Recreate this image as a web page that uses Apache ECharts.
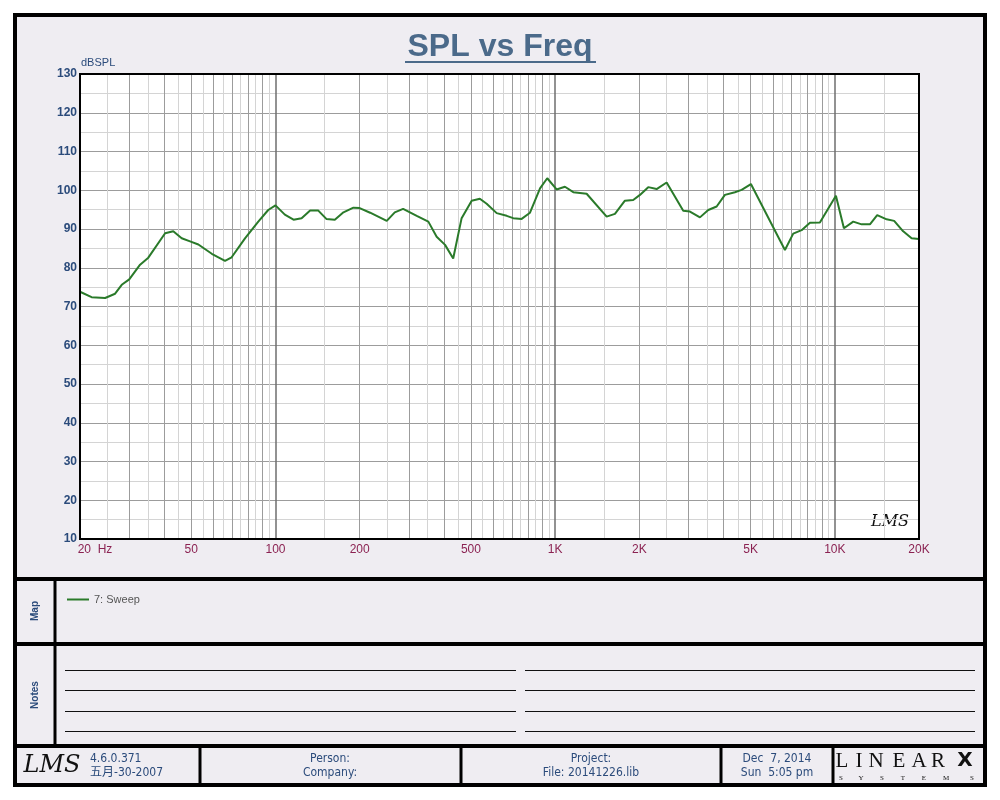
<!DOCTYPE html>
<html><head><meta charset="utf-8">
<script src="https://cdn.jsdelivr.net/npm/echarts@6/dist/echarts.min.js"></script>
<style>html,body{margin:0;padding:0;background:#fff}#c{width:1000px;height:800px}</style>
</head><body><div id="c"></div>
<script>
// ---- data ----
const freqHz = [20,22,24.6,26.7,28.2,30,32.8,35.1,40.3,43.1,46.2,49.5,53,59.2,66,69.7,77.8,86.8,94.2,100,
  108,116,124,133,142,152,163,175,190,200,218,250,267,286,320,352,377,404,432,463,
  503,538,569,618,671,708,759,813,883,937,1012,1084,1161,1296,1528,1636,1776,1902,2010,2152,
  2306,2504,2871,3034,3294,3528,3780,4046,4394,4643,5012,6632,7101,7608,8149,8845,10092,10778,11640,12470,
  13352,14176,15320,16300,17560,18820,20000];
const splDb = [73.8,72.4,72.2,73.3,75.6,77.0,80.8,82.6,88.9,89.4,87.6,86.8,86.0,83.6,81.8,82.7,87.6,91.9,94.9,96.1,
  93.7,92.4,92.8,94.8,94.8,92.6,92.4,94.3,95.5,95.4,94.2,92.1,94.3,95.2,93.4,91.9,88.0,85.9,82.4,92.8,
  97.3,97.8,96.5,94.1,93.4,92.8,92.6,94.2,100.5,103.1,100.2,100.9,99.5,99.1,93.2,93.9,97.3,97.5,98.8,100.8,
  100.3,102.0,94.7,94.5,93.0,94.9,95.8,98.8,99.5,100.1,101.6,84.6,88.8,89.7,91.6,91.7,98.6,90.2,91.9,91.2,
  91.2,93.6,92.5,92.1,89.4,87.6,87.4];
const seriesName = '7: Sweep';
const xLabelValues = [20,50,100,200,500,1000,2000,5000,10000,20000];
const decadeLines = [100,1000,10000];
const multipleLines = [30,40,50,60,70,80,90,200,300,400,500,600,700,800,900,2000,3000,4000,5000,6000,7000,8000,9000];
const halfLines = [25,35,45,55,65,75,85,95,150,250,350,450,550,650,750,850,950,1500,2500,3500,4500,5500,6500,7500,8500,9500,15000];
const yMin = 10, yMax = 130, yStep = 10;
const titleText = 'SPL vs Freq';
const yName = 'dBSPL';

// ---- chart ----
const chart = echarts.init(document.getElementById('c'), null, {renderer:'canvas'});
const blue = '#2b4b7b';
const font = "'Liberation Sans', Arial, sans-serif";
const narrow = "'Liberation Sans Narrow', 'DejaVu Sans Condensed', 'Noto Sans CJK SC', sans-serif";
const G = {left:80, top:74, right:81, bottom:261};
const data = freqHz.map((f,i)=>[f, splDb[i]]);

function xAxisBase(extra){
  return Object.assign({type:'log', logBase:10, min:20, max:20000, gridIndex:0, position:'bottom',
    axisLine:{show:false}, axisTick:{show:false}, axisLabel:{show:false}, splitLine:{show:false}}, extra);
}
function fmtX(v){
  const r = Math.round(v);
  if (r === 20) return '{first|20  Hz}';
  return r >= 1000 ? (r/1000)+'K' : String(r);
}

const txt = (x,y,t,o) => Object.assign({type:'text', x, y, silent:true, style:Object.assign({text:t, fill:blue, font:'12px '+narrow, textAlign:'left', textVerticalAlign:'middle'}, o||{})});
const ln = (x1,y1,x2,y2,w,c) => ({type:'line', silent:true, shape:{x1,y1,x2,y2}, style:{stroke:c||'#000', lineWidth:w}});

const graphics = [
  {type:'rect', z:-10, silent:true, shape:{x:15,y:15,width:970,height:770}, style:{fill:'#efedf2', stroke:'#000', lineWidth:4}},
  {type:'rect', z:50, silent:true, shape:{x:80,y:74,width:839,height:465}, style:{fill:null, stroke:'#000', lineWidth:2}},
  ln(405,62,596,62,2,'#4b6a8a'),
  ln(15,579,985,579,4), ln(15,644,985,644,4), ln(15,746,985,746,4),
  ln(55,579,55,746,3),
  ln(200,746,200,785,3), ln(461,746,461,785,3), ln(721,746,721,785,3), ln(833,746,833,785,3),
  {type:'text', x:35, y:611, rotation:Math.PI/2, silent:true, style:{text:'Map', fill:blue, font:'bold 10px '+font, textAlign:'center', textVerticalAlign:'middle'}},
  {type:'text', x:35, y:695, rotation:Math.PI/2, silent:true, style:{text:'Notes', fill:blue, font:'bold 10px '+font, textAlign:'center', textVerticalAlign:'middle'}},
  txt(890,522,'LMS',{fill:'#111', font:'italic 16px "DejaVu Serif", serif', textAlign:'center'}),
  txt(52,766,'LMS',{fill:'#111', font:'italic 24px "DejaVu Serif", serif', textAlign:'center'}),
  txt(90,759,'4.6.0.371'), txt(90,773,'五月-30-2007'),
  txt(330,759,'Person:',{textAlign:'center'}), txt(330,773,'Company:',{textAlign:'center'}),
  txt(591,759,'Project:',{textAlign:'center'}), txt(591,773,'File: 20141226.lib',{textAlign:'center'}),
  txt(777,759,'Dec  7, 2014',{textAlign:'center'}), txt(777,773,'Sun  5:05 pm',{textAlign:'center'})
];
[['L',842],['I',859],['N',876],['E',899],['A',919],['R',938]].forEach(([c,x])=>graphics.push(txt(x,761,c,{fill:'#111',font:'21px "Liberation Serif", serif',textAlign:'center'})));
graphics.push(txt(965,761,'X',{fill:'#111',font:'bold 20px "DejaVu Sans", sans-serif',textAlign:'center'}));
[['S',841],['Y',861],['S',882],['T',903],['E',924],['M',946],['S',972]].forEach(([c,x])=>graphics.push(txt(x,778,c,{fill:'#111',font:'7px "Liberation Serif", serif',textAlign:'center'})));
const noteYs = [670,690,711,731];
noteYs.forEach(y=>{ graphics.push(ln(65,y+0.5,516,y+0.5,1,'#111')); graphics.push(ln(525,y+0.5,975,y+0.5,1,'#111')); });

chart.setOption({
  backgroundColor:'#ffffff',
  animation:false,
  title:{text:titleText, left:'center', top:26, textStyle:{fontFamily:font, fontSize:32, fontWeight:'bold', color:'#4b6a8a'}},
  legend:{left:62, top:589, icon:'rect', itemWidth:22, itemHeight:2, data:[seriesName], textStyle:{color:'#555', fontSize:11, fontFamily:font}},
  grid:{left:G.left, top:G.top, right:G.right, bottom:G.bottom, show:true, backgroundColor:'#ffffff', borderColor:'#000', borderWidth:0},
  xAxis:[
    xAxisBase({axisTick:{show:false, customValues:halfLines}, splitLine:{show:true, lineStyle:{color:'#d4d4d4', width:1}}}),
    xAxisBase({axisTick:{show:false, customValues:multipleLines}, splitLine:{show:true, lineStyle:{color:'#9c9c9c', width:1}}}),
    xAxisBase({axisTick:{show:false, customValues:decadeLines}, splitLine:{show:true, lineStyle:{color:'#6e6e6e', width:1.5}},
      axisLabel:{show:true, customValues:xLabelValues, formatter:fmtX, color:'#8b2252', fontSize:12, fontFamily:font, margin:5,
        rich:{first:{color:'#8b2252', fontSize:12, fontFamily:font, padding:[0,0,0,30]}}}})
  ],
  yAxis:[{type:'value', min:yMin, max:yMax, interval:yStep, name:yName, nameLocation:'end', nameGap:2,
    nameTextStyle:{color:blue, fontSize:11, fontFamily:font, align:'left', padding:[0,0,0,1]},
    axisLine:{show:false}, axisTick:{show:false},
    axisLabel:{color:blue, fontWeight:'bold', fontSize:12, fontFamily:font, margin:3},
    splitLine:{show:true, lineStyle:{color:'#9c9c9c', width:1}},
    minorTick:{show:false, splitNumber:2},
    minorSplitLine:{show:true, lineStyle:{color:'#d4d4d4', width:1}}}],
  series:[{name:seriesName, type:'line', xAxisIndex:2, yAxisIndex:0, data:data, showSymbol:false, symbol:'none',
    lineStyle:{color:'#2a7a2a', width:2}, itemStyle:{color:'#2a7a2a'}, z:5}],
  graphic:{elements:graphics}
});
</script></body></html>
